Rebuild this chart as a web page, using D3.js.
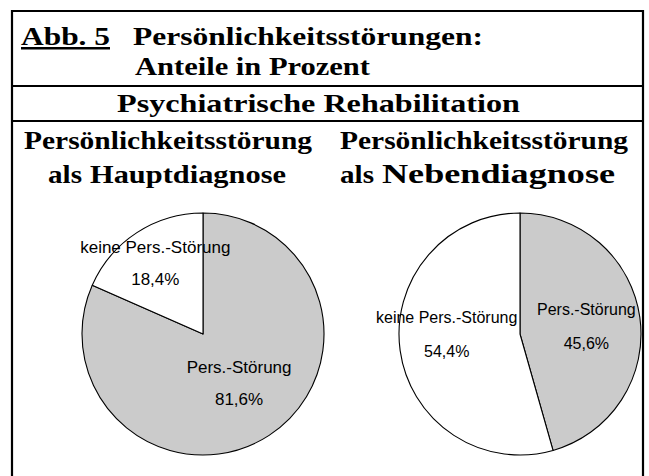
<!DOCTYPE html>
<html><head><meta charset="utf-8">
<script src="https://cdn.jsdelivr.net/npm/d3@7"></script>
<style>html,body{margin:0;padding:0;background:#fff;}svg{display:block;}</style>
</head><body>
<script>
// ---- data ----
const categories = ["Pers.-Störung", "keine Pers.-Störung"];
const hauptValues = [81.6, 18.4];
const nebenValues = [45.6, 54.4];
const valueLabels = [["81,6%", "18,4%"], ["45,6%", "54,4%"]];
const titleAbb = "Abb. 5";
const titleLine1 = "Persönlichkeitsstörungen:";
const titleLine2 = "Anteile in Prozent";
const sectionTitle = "Psychiatrische Rehabilitation";
const subTitles = [["Persönlichkeitsstörung", "als ", "Hauptdiagnose"], ["Persönlichkeitsstörung", "als ", "Nebendiagnose"]];

const W = 649, H = 476;
const svg = d3.select("body").append("svg").attr("width", W).attr("height", H);
const serif = "'Liberation Serif', 'Times New Roman', serif";
const sans = "'Liberation Sans', Arial, sans-serif";

// frame
const L = 12, R = 643, T = 11;
const frame = svg.append("g").attr("stroke", "#000").attr("stroke-width", 2.2).attr("fill", "none");
frame.append("path").attr("d", `M${L},${H} V${T} H${R} V${H}`);
frame.append("line").attr("x1", L).attr("x2", R).attr("y1", 86).attr("y2", 86);
frame.append("line").attr("x1", L).attr("x2", R).attr("y1", 121).attr("y2", 121);

// titles
function fitText(sel, len) { sel.attr("textLength", len).attr("lengthAdjust", "spacingAndGlyphs"); return sel; }
const tg = svg.append("g").attr("font-family", serif).attr("font-weight", "bold").attr("fill", "#000");
fitText(tg.append("text").attr("x", 21).attr("y", 45).attr("font-size", 25).attr("text-decoration", "underline").text(titleAbb), 89);
fitText(tg.append("text").attr("x", 133).attr("y", 45).attr("font-size", 25).text(titleLine1), 350);
fitText(tg.append("text").attr("x", 135).attr("y", 75).attr("font-size", 25).text(titleLine2), 235);
fitText(tg.append("text").attr("x", 117).attr("y", 112).attr("font-size", 26).text(sectionTitle), 403);

const subPos = [{x: 24, w: 288, x2: 48, y1: 149, y2: 183, wa: 42, wb: 196, big: 25},
                {x: 340, w: 288, x2: 340, y1: 149, y2: 183, wa: 42, wb: 233, big: 28}];
subTitles.forEach((s, i) => {
  const p = subPos[i];
  fitText(tg.append("text").attr("x", p.x).attr("y", p.y1).attr("font-size", 25).text(s[0]), p.w);
  fitText(tg.append("text").attr("x", p.x2).attr("y", p.y2).attr("font-size", 25).text(s[1].trim()), p.wa - 8);
  fitText(tg.append("text").attr("x", p.x2 + p.wa).attr("y", p.y2).attr("font-size", p.big).text(s[2]), p.wb);
});

// pies
const colors = d3.scaleOrdinal().domain(categories).range(["#cbcbcb", "#ffffff"]);
const pie = d3.pie().sort(null).value(d => d.v).startAngle(0).endAngle(2 * Math.PI);
const pies = [
  {values: hauptValues, cx: 203, cy: 334, r: 121, labelR: [66, 80], off: [[0, -16], [-4, -14]], gap: 32, fs: 17},
  {values: nebenValues, cx: 520, cy: 334, r: 121, labelR: [67, 72], off: [[0, -10], [-2, -21]], gap: 34, fs: 16}
];
pies.forEach((P, pi) => {
  const data = categories.map((c, i) => ({c, v: P.values[i], lab: valueLabels[pi][i]}));
  const arcs = pie(data);
  const arc = d3.arc().innerRadius(0).outerRadius(P.r);
  const g = svg.append("g").attr("transform", `translate(${P.cx},${P.cy})`);
  g.selectAll("path").data(arcs).join("path")
    .attr("d", arc).attr("fill", d => colors(d.data.c))
    .attr("stroke", "#000").attr("stroke-width", 1.1).attr("stroke-linejoin", "round");
  const lg = g.append("g").attr("font-family", sans).attr("font-size", P.fs).attr("fill", "#000").attr("text-anchor", "middle");
  arcs.forEach((a, i) => {
    const la = d3.arc().innerRadius(P.labelR[i]).outerRadius(P.labelR[i]);
    const [x, y] = la.centroid(a);
    const bx = x + P.off[i][0], by = y + P.off[i][1];
    lg.append("text").attr("x", bx).attr("y", by).text(a.data.c);
    lg.append("text").attr("x", bx).attr("y", by + P.gap).text(a.data.lab);
  });
});
</script>
</body></html>
